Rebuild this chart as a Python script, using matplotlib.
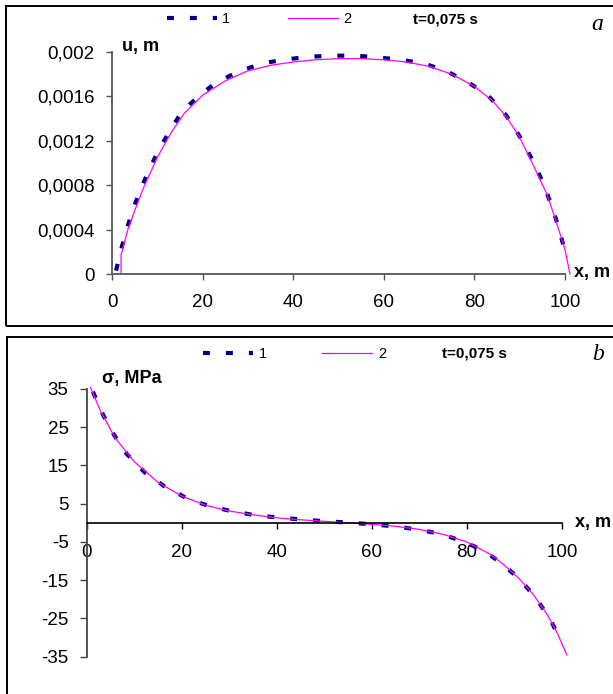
import numpy as np
import matplotlib
matplotlib.use('Agg')
import matplotlib.pyplot as plt
from matplotlib.patches import Rectangle
from matplotlib.ticker import FuncFormatter

plt.rcParams['font.family'] = ['Liberation Sans', 'DejaVu Sans']
plt.rcParams['lines.scale_dashes'] = False
plt.rcParams['axes.unicode_minus'] = False

### --- data --- ###
# panel a: displacement u (m) vs x (m)
xa_1 = [0.9, 2.0, 3.3, 4.8, 6.3, 8.3, 10.5, 12.9, 15.4, 19.3, 23.2, 28.3, 33.5, 38.7, 43.9, 48.9,
        54.0, 59.0, 64.2, 69.4, 74.2, 78.9, 83.2, 87.0, 90.0, 92.5, 94.5, 96.0, 97.6, 98.9, 100.1]
ua_1 = [0.00003, 0.00022, 0.00041, 0.00060, 0.00076, 0.00095, 0.00113, 0.00130, 0.00146, 0.00161,
        0.00173, 0.00183, 0.00190, 0.001935, 0.001958, 0.001967, 0.001967, 0.00195, 0.001928, 0.00189,
        0.00182, 0.00172, 0.00160, 0.00143, 0.00124, 0.00105, 0.00088, 0.00073, 0.00055, 0.00037, 0.00019]
xa_2 = [2, 2, 3.5, 5, 7, 10, 13, 16, 20, 25, 30, 35, 40, 45, 50, 55, 60, 65, 70, 75, 80, 84, 87,
        90, 93, 96, 98, 100, 101.1]
ua_2 = [0, 0.00017, 0.00040, 0.00057, 0.00078, 0.00105, 0.00127, 0.00145, 0.00161, 0.00174, 0.00183,
        0.00188, 0.00191, 0.00193, 0.00194, 0.00194, 0.00193, 0.00191, 0.00187, 0.00180, 0.00169,
        0.00156, 0.00142, 0.00123, 0.00098, 0.00072, 0.00048, 0.00022, 0.0]

# panel b: stress sigma (MPa) vs x (m)
xb_1 = [1.3, 3.5, 5.8, 8.5, 12.2, 16.3, 21.1, 25.7, 30.5, 35.4, 40.2, 45.0, 49.9, 54.6, 59.5, 64.3,
        69.1, 74.1, 78.9, 83.6, 87.7, 91.4, 94.7, 97.6, 99.8]
sb_1 = [34.3, 28.1, 22.9, 17.9, 13.2, 9.6, 6.4, 4.4, 3.05, 2.0, 1.4, 0.9, 0.44, 0.1, -0.34, -0.86,
        -1.64, -2.8, -4.7, -7.3, -11.0, -15.1, -20.0, -25.4, -30.9]
xb_2 = [0.8, 3, 6, 10, 15, 20, 25, 30, 35, 40, 45, 50, 55, 60, 65, 70, 75, 80, 85, 88, 91, 94, 97, 99, 101]
sb_2 = [35.4, 29.0, 22.2, 16.0, 10.6, 7.0, 4.6, 3.1, 2.1, 1.3, 0.8, 0.4, 0.0, -0.4, -0.9, -1.7, -3.0,
        -5.0, -8.3, -11.2, -14.6, -18.8, -24.2, -28.8, -34.5]

labels = ['1', '2']
time_label = 't=0,075 s'

W, H = 613, 694
def fx(px):
    return px / W
def fy(py):
    return 1 - py / H

fig = plt.figure(figsize=(W / 100, H / 100), dpi=100)

comma = FuncFormatter(lambda v, p: ('%g' % v).replace('.', ','))
dash = (0, (5.0, 11.5))
navy = '#000080'
pink = '#FF00FF'

#PANEL a
ax1 = fig.add_axes([fx(112), fy(274), fx(565) - fx(112), fy(52) - fy(274)])
ax1.plot(xa_1, ua_1, color=navy, lw=3.0, linestyle=dash, label=labels[0], clip_on=False)
ax1.plot(xa_2, ua_2, color=pink, lw=0.9, label=labels[1], clip_on=False)
ax1.set_xlim(0, 100)
ax1.set_ylim(0, 0.002)
ax1.set_xticks(np.arange(0, 101, 20))
ax1.set_yticks(np.arange(0, 0.00201, 0.0004))
ax1.yaxis.set_major_formatter(comma)
ax1.spines[['top', 'right']].set_visible(False)
for s in ['left', 'bottom']:
    ax1.spines[s].set_color('#555555')
    ax1.spines[s].set_linewidth(1.3)
ax1.tick_params(axis='x', direction='out', length=4.5, width=1, color='#555555', pad=10, labelsize=13.5)
ax1.tick_params(axis='y', direction='out', length=4.5, width=1, color='#555555', pad=8, labelsize=13.5)
ax1.legend(loc='center left', bbox_to_anchor=(fx(167), fy(19)), bbox_transform=fig.transFigure,
           ncol=2, frameon=False, fontsize=10.5, handlelength=3.4, handletextpad=0.35,
           columnspacing=4.0, borderpad=0, borderaxespad=0)

#PANEL b
ax2 = fig.add_axes([fx(86.7), fy(656.7), fx(562) - fx(86.7), fy(389) - fy(656.7)])
ax2.plot(xb_1, sb_1, color=navy, lw=3.0, linestyle=dash, label=labels[0], clip_on=False)
ax2.plot(xb_2, sb_2, color=pink, lw=0.9, label=labels[1], clip_on=False)
ax2.set_xlim(0, 100)
ax2.set_ylim(-35, 35)
ax2.set_xticks(np.arange(0, 101, 20))
ax2.set_yticks(np.arange(-35, 36, 10))
ax2.spines[['top', 'right']].set_visible(False)
ax2.spines['bottom'].set_position(('data', 0))
ax2.spines['bottom'].set_color('black')
ax2.spines['left'].set_color('#444444')
ax2.spines['bottom'].set_linewidth(1.2)
ax2.spines['left'].set_linewidth(1.3)
ax2.tick_params(axis='x', direction='out', length=4.5, width=1, pad=11, labelsize=13.5)
ax2.tick_params(axis='y', direction='out', length=5, width=1, color='#444444', pad=8, labelsize=13.5)
ax2.legend(loc='center left', bbox_to_anchor=(fx(203), fy(354)), bbox_transform=fig.transFigure,
           ncol=2, frameon=False, fontsize=10.5, handlelength=3.4, handletextpad=0.45,
           columnspacing=3.75, borderpad=0, borderaxespad=0)

#Axis titles and annotations
fig.text(fx(122), fy(47), 'u, m', fontsize=13, fontweight='bold', va='center', ha='left')
fig.text(fx(574), fy(273), 'x, m', fontsize=13, fontweight='bold', va='center', ha='left')
fig.text(fx(102), fy(378), 'σ, MPa', fontsize=13, fontweight='bold', va='center', ha='left')
fig.text(fx(575), fy(523), 'x, m', fontsize=13, fontweight='bold', va='center', ha='left')
fig.text(fx(413), fy(19), time_label, fontsize=11, fontweight='bold', va='center', ha='left')
fig.text(fx(442), fy(354), time_label, fontsize=11, fontweight='bold', va='center', ha='left')
fig.text(fx(597), fy(24), 'a', fontsize=17, family='Liberation Serif', style='italic', va='center', ha='center')
fig.text(fx(598), fy(355), 'b', fontsize=17, family='Liberation Serif', style='italic', va='center', ha='center')

#Frames
fig.add_artist(Rectangle((fx(6), fy(326)), fx(640) - fx(6), fy(6) - fy(326), transform=fig.transFigure,
                         fill=False, edgecolor='black', lw=1.4))
fig.add_artist(Rectangle((fx(6.5), fy(720)), fx(640) - fx(6.5), fy(337) - fy(720), transform=fig.transFigure,
                         fill=False, edgecolor='black', lw=1.4))

fig.savefig('out.png', dpi=100)
